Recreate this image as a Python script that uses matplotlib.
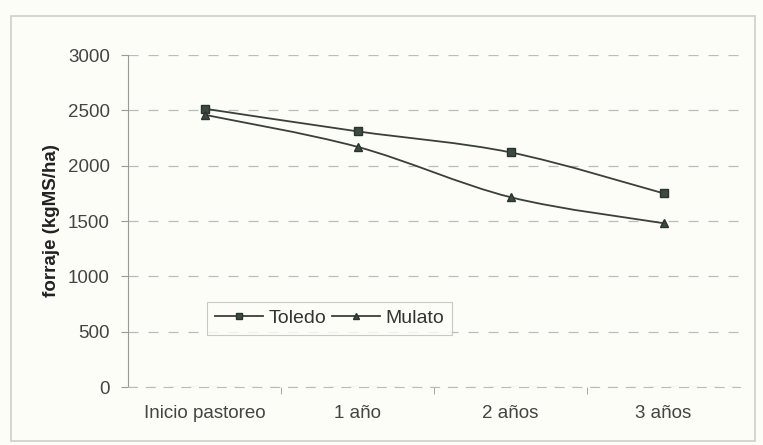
import matplotlib
matplotlib.use("Agg")
import matplotlib.pyplot as plt
import numpy as np
from matplotlib.path import Path
from matplotlib.patches import PathPatch

categories = ["Inicio pastoreo", "1 año", "2 años", "3 años"]
toledo = [2515, 2310, 2120, 1750]
mulato = [2460, 2170, 1715, 1480]
yticks = [0, 500, 1000, 1500, 2000, 2500, 3000]

plt.rcParams['font.family'] = ['Liberation Sans', 'DejaVu Sans']

fig = plt.figure(figsize=(7.63, 4.45), dpi=100, facecolor='#fdfdf8')
ax = fig.add_axes([0.1678, 0.1303, 0.8022, 0.7461])
ax.set_facecolor('#fdfdf8')

xs = np.arange(len(categories))
line_col = '#3a3f3a'
mk_col = '#3c4a42'


def smooth_path(x, y, t=1/6):
    verts = [(x[0], y[0])]
    codes = [Path.MOVETO]
    n = len(x)
    for i in range(n - 1):
        p0 = (x[max(i - 1, 0)], y[max(i - 1, 0)])
        p1 = (x[i], y[i])
        p2 = (x[i + 1], y[i + 1])
        p3 = (x[min(i + 2, n - 1)], y[min(i + 2, n - 1)])
        c1 = (p1[0] + (p2[0] - p0[0]) * t, p1[1] + (p2[1] - p0[1]) * t)
        c2 = (p2[0] - (p3[0] - p1[0]) * t, p2[1] - (p3[1] - p1[1]) * t)
        verts += [c1, c2, p2]
        codes += [Path.CURVE4] * 3
    return Path(verts, codes)


for vals, mk, lab in [(toledo, 's', 'Toledo'), (mulato, '^', 'Mulato')]:
    ax.add_patch(PathPatch(smooth_path(xs, vals), fill=False, ec=line_col, lw=1.3, zorder=3))
    ax.plot(xs, vals, linestyle='none', marker=mk, ms=6.2, mfc=mk_col, mec='#2a332d', zorder=4)
    ax.plot([], [], color=line_col, lw=1.3, marker=mk, ms=5, mfc=mk_col, mec='#2a332d', label=lab)

ax.set_xlim(-0.5, 3.5)
ax.set_ylim(0, 3000)
ax.set_yticks(yticks)
ax.set_yticklabels([str(v) for v in yticks], fontsize=13.5, color='#444444')
ax.set_xticks(xs)
ax.set_xticklabels(categories, fontsize=13.5, color='#444444')
ax.tick_params(axis='x', length=0, pad=13)
ax.set_xticks([0.5, 1.5, 2.5], minor=True)
ax.tick_params(axis='x', which='minor', length=5, color='#999999', direction='out')
ax.tick_params(axis='y', length=5, color='#999999', direction='out', pad=8)

ax.yaxis.grid(True, linestyle=(0, (8, 8)), color='#bbbbbb', lw=0.9)
ax.set_axisbelow(True)
for s in ['top', 'right']:
    ax.spines[s].set_visible(False)
ax.spines['left'].set_color('#999999')
ax.spines['bottom'].set_color('#bbbbbb')
ax.spines['bottom'].set_linestyle((0, (8, 8)))

ax.set_ylabel('forraje (kgMS/ha)', fontsize=13.5, fontweight='bold', color='#222222', labelpad=6)

leg = ax.legend(loc='lower left', bbox_to_anchor=(0.129, 0.157), ncol=2, frameon=True,
                fontsize=14, handlelength=2.5, columnspacing=0.3, handletextpad=0.25,
                fancybox=False, borderpad=0.4, borderaxespad=0)
leg.get_frame().set_edgecolor('#bbbbbb')
leg.get_frame().set_facecolor('#fdfdf8')
leg.get_frame().set_linewidth(0.8)
for t in leg.get_texts():
    t.set_color('#333333')

fig.patches.append(plt.Rectangle((0.014, 0.01), 0.975, 0.955, transform=fig.transFigure,
                                 fill=False, ec='#cfcfc8', lw=1.2))

fig.savefig('out.png', dpi=100, facecolor=fig.get_facecolor())
